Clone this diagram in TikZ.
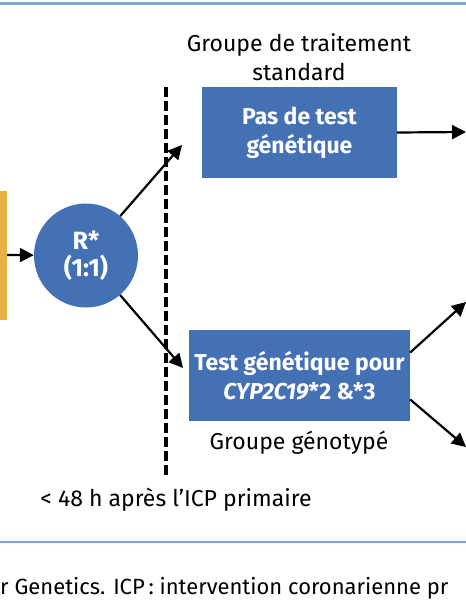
\documentclass[tikz,border=0pt]{standalone}
\usepackage{fontspec}
\setmainfont{Fira Sans}
\usetikzlibrary{arrows.meta}

\definecolor{boxblue}{HTML}{4470B4}
\definecolor{rulblue}{HTML}{7FA3D7}
\definecolor{startyellow}{HTML}{E8B040}

\begin{document}
\begin{tikzpicture}[x=1pt, y=-1pt,
  every node/.style={inner sep=0pt},
  bluebox/.style={fill=boxblue, text=white, font=\fontsize{23}{29}\selectfont\bfseries, align=center},
  label/.style={font=\fontsize{23}{29}\selectfont, align=center},
  arr/.style={line width=2.2pt, -{Triangle[length=14pt,width=14pt]}}]

\useasboundingbox (0,0) rectangle (466,600);
\clip (0,0) rectangle (466,600);

% Rules at top and bottom
\draw[rulblue, line width=3pt] (0,3) -- (466,3);
\draw[rulblue, line width=2.5pt] (0,542) -- (466,542);

% Nodes of the scheme
\node[fill=startyellow, minimum width=14pt, minimum height=129pt] (start) at (0,255) {};
\node[circle, fill=boxblue, text=white, minimum size=104pt, align=center,
      font=\fontsize{25}{27}\selectfont\bfseries] (rand) at (86,255.5) {R*\\(1:1)};
\node[bluebox, minimum width=195pt, minimum height=91pt] (std) at (299.5,132.5) {Pas de test\\génétique};
\node[bluebox, minimum width=221pt, minimum height=91pt] (geno) at (299.5,375.5) {Test génétique pour\\\textit{CYP2C19}*2 \&*3};

\node[label] (stdlab) at (299,57) {Groupe de traitement\\standard};
\node[label] (genolab) at (299,443) {Groupe génotypé};
\node[label] (timelab) at (176,500) {< 48 h après l'ICP primaire};
\node[label, anchor=west, font=\fontsize{22}{26}\selectfont] (note) at (0,588) {r Genetics. ICP\,: intervention coronarienne pr};

% Dashed time line
\coordinate (d1) at (166,87);
\coordinate (d2) at (166,475);
\draw[line width=3.5pt, dash pattern=on 10pt off 4pt] (d1) -- (d2);

% Arrow ends
\coordinate (up) at (182,145);
\coordinate (down) at (183,368);
\coordinate (out1) at (466,132);
\coordinate (out2) at (466,302);
\coordinate (out3) at (466,447);

\draw[arr] (start.east) -- (rand);
\draw[arr] (rand) -- (up);
\draw[arr] (rand) -- (down);
\draw[arr] (std.east) -- (out1);
\draw[arr] ([yshift=23pt]geno.east) -- (out2);
\draw[arr] ([yshift=-24pt]geno.east) -- (out3);

\end{tikzpicture}
\end{document}
